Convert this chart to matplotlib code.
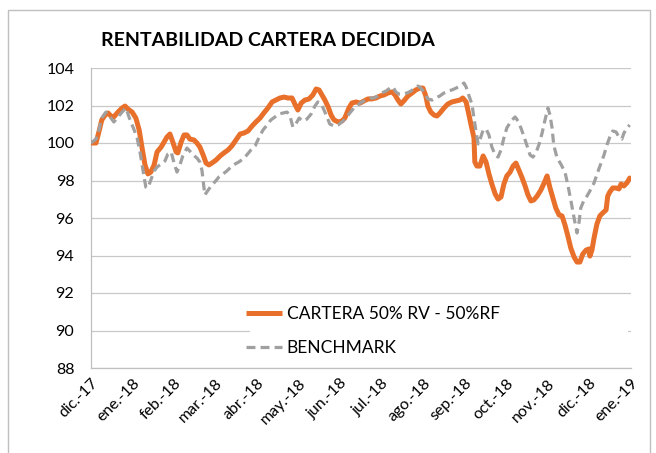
import matplotlib
matplotlib.use("Agg")
import matplotlib.pyplot as plt
from matplotlib.patches import Rectangle
from matplotlib.lines import Line2D

# ---- data (x in months since dic.-17) ----
month_labels = ['dic.-17', 'ene.-18', 'feb.-18', 'mar.-18', 'abr.-18', 'may.-18',
                'jun.-18', 'jul.-18', 'ago.-18', 'sep.-18', 'oct.-18', 'nov.-18',
                'dic.-18', 'ene.-19']

cartera_t = [0.00, 0.12, 0.19, 0.26, 0.34, 0.41, 0.48, 0.55, 0.65, 0.75, 0.82, 0.89, 0.99,
             1.08, 1.16, 1.23, 1.30, 1.37, 1.44, 1.52, 1.59, 1.69, 1.76, 1.83, 1.90, 1.97,
             2.05, 2.09, 2.17, 2.24, 2.31, 2.38, 2.48, 2.55, 2.62, 2.70, 2.77, 2.84, 2.91,
             3.01, 3.11, 3.20, 3.30, 3.39, 3.49, 3.59, 3.68, 3.78, 3.88, 3.97, 4.07, 4.16,
             4.26, 4.36, 4.45, 4.55, 4.65, 4.74, 4.84, 4.93, 4.98, 5.06, 5.15, 5.25, 5.34,
             5.42, 5.49, 5.56, 5.63, 5.71, 5.78, 5.85, 5.95, 6.04, 6.11, 6.21, 6.28, 6.38,
             6.48, 6.57, 6.67, 6.76, 6.86, 6.96, 7.05, 7.15, 7.25, 7.32, 7.39, 7.46, 7.53,
             7.63, 7.73, 7.82, 7.92, 7.99, 8.06, 8.11, 8.18, 8.26, 8.33, 8.40, 8.50, 8.59,
             8.69, 8.79, 8.88, 8.95, 9.03, 9.10, 9.15, 9.22, 9.24, 9.29, 9.36, 9.44, 9.51,
             9.58, 9.65, 9.73, 9.80, 9.87, 9.94, 10.01, 10.09, 10.16, 10.23, 10.30, 10.37,
             10.45, 10.52, 10.59, 10.66, 10.74, 10.83, 10.91, 10.98, 11.05, 11.12, 11.19,
             11.27, 11.34, 11.41, 11.48, 11.55, 11.63, 11.70, 11.77, 11.84, 11.92, 11.99,
             12.01, 12.06, 12.11, 12.18, 12.25, 12.32, 12.40, 12.44, 12.49, 12.56, 12.64,
             12.71, 12.76, 12.83, 12.90, 12.97]

cartera = [100.00, 100.00, 100.59, 101.23, 101.49, 101.60, 101.44, 101.39, 101.65, 101.87,
           101.97, 101.81, 101.65, 101.33, 100.69, 99.73, 98.83, 98.35, 98.45, 98.83, 99.52,
           99.79, 100.05, 100.32, 100.48, 100.05, 99.52, 99.47, 100.05, 100.43, 100.43,
           100.21, 100.16, 100.00, 99.79, 99.36, 98.93, 98.83, 98.93, 99.09, 99.31, 99.47,
           99.63, 99.84, 100.16, 100.48, 100.53, 100.64, 100.91, 101.12, 101.33, 101.60,
           101.87, 102.19, 102.29, 102.40, 102.45, 102.40, 102.40, 101.97, 101.76, 102.13,
           102.29, 102.35, 102.56, 102.88, 102.83, 102.56, 102.29, 101.92, 101.49, 101.23,
           101.12, 101.17, 101.33, 101.87, 102.13, 102.19, 102.13, 102.24, 102.35, 102.35,
           102.40, 102.51, 102.56, 102.67, 102.72, 102.56, 102.29, 102.08, 102.24, 102.51,
           102.67, 102.83, 102.93, 102.93, 102.51, 101.97, 101.65, 101.49, 101.44, 101.60,
           101.87, 102.08, 102.19, 102.24, 102.29, 102.40, 102.19, 101.49, 100.96, 100.27,
           98.99, 98.77, 98.77, 99.31, 98.99, 98.35, 97.81, 97.28, 97.01, 97.12, 97.81,
           98.24, 98.45, 98.77, 98.93, 98.56, 98.19, 97.71, 97.23, 96.91, 96.96, 97.17,
           97.49, 97.87, 98.24, 97.60, 97.07, 96.53, 96.16, 96.11, 95.63, 95.04, 94.40,
           93.92, 93.65, 93.65, 94.08, 94.29, 94.35, 93.97, 94.29, 94.93, 95.68, 96.11,
           96.27, 96.43, 97.17, 97.39, 97.60, 97.60, 97.55, 97.81, 97.71, 97.87, 98.13]

benchmark_t = [0.00, 0.12, 0.19, 0.26, 0.36, 0.46, 0.55, 0.65, 0.75, 0.84, 0.94, 1.04, 1.11,
               1.18, 1.25, 1.32, 1.37, 1.44, 1.52, 1.59, 1.69, 1.78, 1.85, 1.93, 2.00, 2.07,
               2.14, 2.21, 2.31, 2.38, 2.46, 2.55, 2.62, 2.67, 2.72, 2.74, 2.82, 2.89, 2.98,
               3.08, 3.18, 3.27, 3.37, 3.47, 3.56, 3.66, 3.75, 3.85, 3.95, 4.04, 4.14, 4.24,
               4.33, 4.43, 4.53, 4.62, 4.72, 4.79, 4.86, 4.93, 5.01, 5.10, 5.20, 5.30, 5.39,
               5.46, 5.54, 5.61, 5.68, 5.75, 5.85, 5.95, 6.04, 6.14, 6.23, 6.33, 6.43, 6.52,
               6.62, 6.72, 6.81, 6.91, 7.00, 7.10, 7.20, 7.27, 7.34, 7.41, 7.51, 7.61, 7.70,
               7.80, 7.87, 7.94, 8.02, 8.11, 8.21, 8.30, 8.40, 8.50, 8.59, 8.69, 8.79, 8.88,
               8.98, 9.03, 9.10, 9.17, 9.22, 9.27, 9.32, 9.36, 9.44, 9.51, 9.58, 9.65, 9.73,
               9.80, 9.87, 9.94, 10.01, 10.11, 10.21, 10.28, 10.35, 10.42, 10.50, 10.57,
               10.64, 10.71, 10.78, 10.86, 10.93, 11.00, 11.05, 11.10, 11.14, 11.22, 11.31,
               11.41, 11.48, 11.55, 11.63, 11.70, 11.75, 11.79, 11.87, 11.94, 12.01, 12.11,
               12.20, 12.28, 12.35, 12.42, 12.49, 12.56, 12.64, 12.71, 12.78, 12.83, 12.90,
               12.97]

benchmark = [100.00, 100.21, 100.69, 101.33, 101.65, 101.39, 101.12, 101.39, 101.65, 101.87,
             101.23, 100.69, 100.27, 99.52, 98.56, 97.65, 97.60, 98.03, 98.51, 98.72, 98.88,
             99.04, 99.41, 99.52, 98.93, 98.45, 98.83, 99.31, 99.73, 99.57, 99.36, 99.20,
             98.99, 98.56, 97.60, 97.23, 97.49, 97.71, 97.92, 98.19, 98.35, 98.51, 98.72,
             98.88, 98.99, 99.15, 99.36, 99.63, 99.84, 100.27, 100.69, 100.96, 101.23, 101.39,
             101.55, 101.60, 101.65, 101.44, 100.85, 101.01, 101.33, 101.17, 101.28, 101.55,
             101.97, 102.19, 102.08, 101.76, 101.39, 101.01, 100.91, 100.96, 101.12, 101.33,
             101.60, 101.87, 102.03, 102.19, 102.29, 102.40, 102.40, 102.51, 102.67, 102.77,
             102.93, 102.99, 102.72, 102.61, 102.61, 102.67, 102.77, 102.93, 103.04, 102.93,
             102.72, 102.35, 102.29, 102.40, 102.51, 102.67, 102.77, 102.83, 102.93, 103.04,
             103.20, 102.99, 102.51, 102.08, 101.33, 100.59, 99.95, 100.16, 100.69, 100.75,
             100.43, 99.79, 99.36, 99.25, 99.63, 100.27, 100.80, 101.17, 101.39, 101.17,
             100.80, 100.37, 99.84, 99.36, 99.25, 99.47, 99.89, 100.53, 101.23, 101.87,
             101.49, 100.80, 99.89, 99.20, 98.88, 98.45, 97.76, 96.96, 96.00, 95.20, 95.79,
             96.53, 96.96, 97.17, 97.44, 97.87, 98.45, 98.93, 99.36, 99.89, 100.32, 100.64,
             100.59, 100.32, 100.21, 100.53, 100.80, 100.96]

series_names = ['CARTERA 50% RV - 50%RF', 'BENCHMARK']
title = 'RENTABILIDAD CARTERA DECIDIDA'

# ---- styling ----
FONT = ['Lato', 'DejaVu Sans']
plt.rcParams['font.family'] = FONT
W, H = 656, 453
fig = plt.figure(figsize=(W / 100, H / 100), dpi=100)

L, R, T, B = 91, 631, 68, 368
ax = fig.add_axes([L / W, 1 - B / H, (R - L) / W, (B - T) / H])

orange = '#E8702A'
grey = '#A0A0A0'
grid_c = '#C8C8C8'

ax.plot(cartera_t, cartera, color=orange, lw=3.6, solid_joinstyle='round',
        solid_capstyle='round', zorder=3)
ax.plot(benchmark_t, benchmark, color=grey, lw=2.3, dashes=(2.8, 1.6), zorder=4)

ax.set_xlim(0, 13)
ax.set_ylim(88, 104)
ax.set_yticks(range(88, 105, 2))
ax.set_xticks(range(len(month_labels)))
ax.set_xticklabels(month_labels, rotation=45, ha='right', va='top',
                   rotation_mode='anchor')
ax.tick_params(axis='both', length=0, labelsize=11.5, colors='black')
ax.tick_params(axis='y', pad=12)
ax.tick_params(axis='x', pad=6)

ax.set_axisbelow(True)
ax.yaxis.grid(True, color=grid_c, lw=0.9)
for s in ['top', 'right']:
    ax.spines[s].set_visible(False)
for s in ['left', 'bottom']:
    ax.spines[s].set_color('#BFBFBF')
    ax.spines[s].set_linewidth(0.9)

# legend area (white box covering grid), inside the axes
ax.add_patch(Rectangle((250 / W, 1 - 366 / H), (628 - 250) / W, (366 - 298) / H,
                       transform=fig.transFigure, facecolor='white',
                       edgecolor='none', zorder=1, clip_on=False))
handles = [Line2D([], [], color=orange, lw=3.6, solid_capstyle='butt'),
           Line2D([], [], color=grey, lw=2.3, dashes=(2.8, 1.6))]
leg = ax.legend(handles, series_names, loc='upper left', frameon=False,
                bbox_to_anchor=(246 / W, 1 - 306 / H), bbox_transform=fig.transFigure,
                borderpad=0, borderaxespad=0, fontsize=12.5, handlelength=2.1,
                handletextpad=0.25, labelspacing=1.05)
leg.set_zorder(6)

fig.text(101 / W, 1 - 40 / H, title, fontsize=14, fontweight='bold',
         ha='left', va='center', color='black')

# outer chart border
fig.patches.append(Rectangle((8 / W, -0.05), (650 - 8) / W, 1.05 - 10 / H,
                             transform=fig.transFigure, facecolor='none',
                             edgecolor='#BFBFBF', lw=1.0, zorder=1))

fig.savefig('out.png', dpi=100)
